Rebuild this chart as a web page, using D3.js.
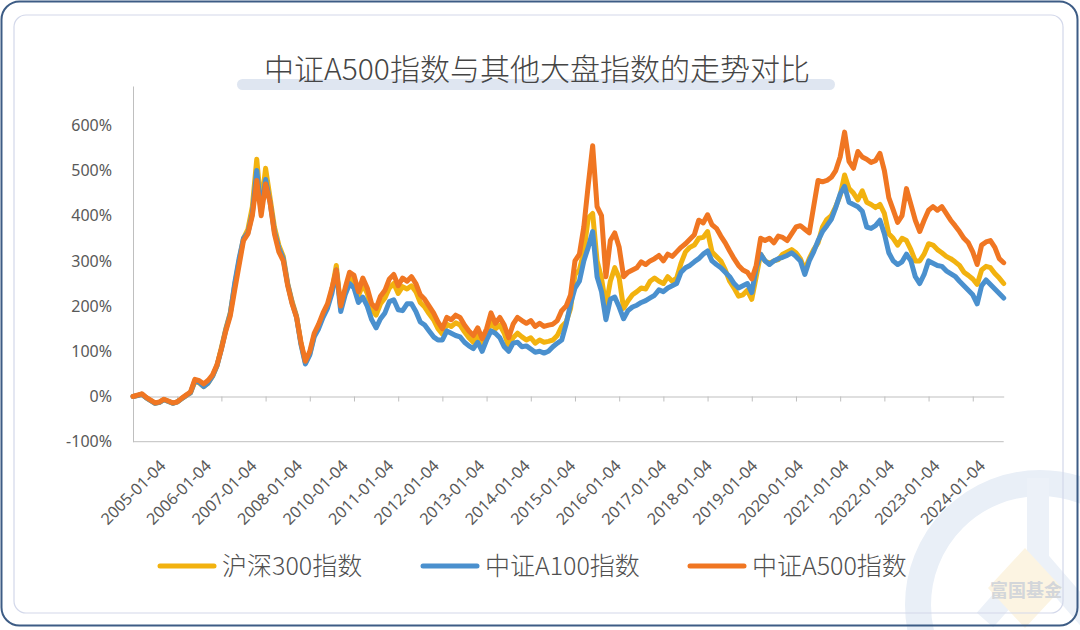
<!DOCTYPE html>
<html><head><meta charset="utf-8">
<script src="https://cdn.jsdelivr.net/npm/d3@7"></script>
<style>html,body{margin:0;padding:0;background:#fff;}svg{display:block}</style>
</head><body>
<svg id="c" width="1080" height="630"></svg>
<script>
const title = "中证A500指数与其他大盘指数的走势对比";
const seriesNames = ["沪深300指数", "中证A100指数", "中证A500指数"];
const seriesColors = ["#F2B20F", "#4A90CE", "#F07622"];
const yTicks = [-100, 0, 100, 200, 300, 400, 500, 600];
const xLabels = ["2005-01-04","2006-01-04","2007-01-04","2008-01-04","2010-01-04","2011-01-04","2012-01-04","2013-01-04","2014-01-04","2015-01-04","2016-01-04","2017-01-04","2018-01-04","2019-01-04","2020-01-04","2021-01-04","2022-01-04","2023-01-04","2024-01-04"];
const pointsPerTick = 10;
const pointsPerLabel = 10.3;
const yTop = 687;

const hs300 = [0,2,5,-3,-9,-15,-13,-7,-11,-15,
-12,-5,2,8,33,30,22,30,45,68,
108,150,185,245,300,350,370,420,525,420,
505,440,375,335,310,250,210,178,118,75,
95,135,155,180,200,235,290,195,232,262,
255,222,248,228,192,180,205,218,240,250,
228,243,238,245,232,208,198,183,170,150,
138,160,155,163,158,143,130,120,138,113,
135,165,150,158,140,110,130,140,132,125,
130,118,125,120,122,125,135,155,165,195,
270,280,320,395,405,300,262,200,255,285,
262,195,212,225,232,240,238,255,262,255,
250,265,255,262,295,320,330,335,350,352,
365,320,310,300,280,255,240,222,225,235,
215,265,315,300,295,300,303,315,320,325,
318,305,280,305,325,340,375,392,400,420,
445,490,460,450,435,455,430,425,418,425,
405,360,350,335,350,345,325,300,300,315,
338,335,325,318,310,305,298,290,275,268,
260,248,280,288,285,272,262,250];

const a100 = [0,2,5,-3,-9,-15,-13,-7,-11,-15,
-12,-5,2,8,35,31,22,30,45,68,
105,148,183,250,305,350,362,405,500,410,
480,430,365,328,305,248,207,176,115,72,
92,132,150,175,195,228,280,188,225,250,
240,208,220,200,170,152,172,185,210,214,
192,190,205,205,188,165,158,145,132,125,
125,145,140,135,132,120,112,106,120,100,
125,145,140,130,110,100,118,120,110,112,
105,98,100,96,100,110,118,125,160,205,
240,255,300,330,365,265,232,170,215,220,
198,172,190,198,202,208,212,218,224,236,
232,240,245,250,275,285,290,298,305,315,
322,300,292,285,275,265,250,240,245,250,
230,285,315,300,292,300,305,308,312,318,
310,300,270,300,320,345,365,378,392,418,
448,465,430,425,420,410,375,372,378,390,
360,318,300,292,298,315,300,265,250,270,
300,295,290,288,278,272,266,255,245,235,
225,205,245,258,248,238,228,218];

const a500 = [0,3,6,-2,-8,-14,-12,-6,-10,-14,
-12,-4,3,10,38,35,28,36,48,70,
105,145,178,235,290,345,360,400,478,400,
470,430,360,320,300,245,205,175,120,78,
100,140,160,185,205,240,280,200,240,275,
268,232,262,240,205,195,222,235,260,270,
245,262,255,265,250,225,215,200,185,165,
150,175,170,180,175,158,145,135,152,128,
150,185,162,175,158,130,160,175,168,162,
168,155,162,155,158,160,168,190,200,225,
300,315,375,468,555,420,400,265,345,362,
330,265,275,280,285,298,292,300,305,312,
300,315,310,320,330,338,348,358,390,384,
402,380,372,355,340,322,305,290,280,275,
260,290,350,345,350,340,355,352,345,360,
375,378,370,362,420,478,475,478,485,500,
530,585,520,505,542,530,525,518,522,538,
500,440,413,385,400,460,425,390,365,390,
412,420,412,420,405,390,378,365,350,340,
320,292,335,342,345,330,305,296];

const series = [hs300, a100, a500];

const svg = d3.select("#c");
const W = 1080, H = 630;

svg.append("rect").attr("width", W).attr("height", H).attr("fill", "#fff");

// watermark logo
const wm = svg.append("g");
wm.append("circle").attr("cx", 1040).attr("cy", 605).attr("r", 122)
  .attr("fill", "none").attr("stroke", "#e9eff7").attr("stroke-width", 26);
wm.append("path").attr("d", "M1038,478 L1038,560 M1038,560 L985,620 M1038,560 L1090,620")
  .attr("fill", "none").attr("stroke", "#ecf1f8").attr("stroke-width", 22);
wm.append("path").attr("d", "M1025,548 L1062,588 L1025,628 L988,588 Z").attr("fill", "#fcf4e2");
wm.append("text").attr("x", 1026).attr("y", 597).attr("text-anchor", "middle")
  .attr("font-family", "Noto Sans CJK SC").attr("font-size", 18).attr("font-weight", 700)
  .attr("fill", "#d3d6da").text("富国基金");

// frames
svg.append("rect").attr("x", 14).attr("y", 15).attr("width", 1049).attr("height", 598).attr("rx", 12)
  .attr("fill", "none").attr("stroke", "#d3d8ea").attr("stroke-width", 1.2);
svg.append("rect").attr("x", 1.5).attr("y", 1.5).attr("width", 1076).attr("height", 624).attr("rx", 18)
  .attr("fill", "none").attr("stroke", "#3d5c85").attr("stroke-width", 2);

// title
svg.append("rect").attr("x", 237).attr("y", 79).attr("width", 598).attr("height", 11).attr("rx", 5.5)
  .attr("fill", "#dfe6f1");
svg.append("text").attr("x", 537).attr("y", 80).attr("text-anchor", "middle")
  .attr("font-family", "Noto Sans CJK SC").attr("font-weight", 300).attr("font-size", 30)
  .attr("fill", "#454545").text(title);

// scales
const x = d3.scaleLinear().domain([0, hs300.length - 1]).range([133, 1003.7]);
const y = d3.scaleLinear().domain([-100, yTop]).range([441.7, 86]);

// y axis
const yAxis = svg.append("g").attr("transform", `translate(${x(0)},0)`)
  .call(d3.axisLeft(y).tickValues(yTicks).tickFormat(d => d + "%").tickSize(0).tickPadding(21));
yAxis.select(".domain").attr("stroke", "#bfbfbf");
yAxis.selectAll("text").attr("font-family", "Noto Sans").attr("font-size", 16).attr("fill", "#595959");

// bottom line (-100%)
svg.append("line").attr("x1", x(0)).attr("x2", x(hs300.length - 1)).attr("y1", y(-100)).attr("y2", y(-100))
  .attr("stroke", "#bfbfbf").attr("stroke-width", 1);

// x axis at 0
const tickVals = d3.range(0, hs300.length, pointsPerTick);
const xAxis = svg.append("g").attr("transform", `translate(0,${y(0)})`)
  .call(d3.axisBottom(x).tickValues(tickVals).tickFormat("").tickSizeInner(5).tickSizeOuter(0));
xAxis.select(".domain").attr("stroke", "#bfbfbf");
xAxis.selectAll(".tick line").attr("stroke", "#bfbfbf");

// x labels
svg.append("g").selectAll("text").data(xLabels).join("text")
  .attr("transform", (d, i) => `translate(${x(i * pointsPerLabel)},492) rotate(-45)`)
  .attr("text-anchor", "middle").attr("dominant-baseline", "central")
  .attr("font-family", "Noto Sans").attr("font-size", 16).attr("fill", "#595959")
  .text(d => d);

// lines
const line = d3.line().x((d, i) => x(i)).y(d => y(d)).curve(d3.curveLinear);
svg.append("g").selectAll("path").data(series).join("path")
  .attr("d", line).attr("fill", "none")
  .attr("stroke", (d, i) => seriesColors[i]).attr("stroke-width", 5)
  .attr("stroke-linejoin", "round").attr("stroke-linecap", "round");

// legend
const legendX = [160, 423, 690];
const lg = svg.append("g").selectAll("g").data(seriesNames).join("g")
  .attr("transform", (d, i) => `translate(${legendX[i]},566)`);
lg.append("line").attr("x1", 0).attr("x2", 54).attr("y1", 0).attr("y2", 0)
  .attr("stroke", (d, i) => seriesColors[i]).attr("stroke-width", 5).attr("stroke-linecap", "round");
lg.append("text").attr("x", 62).attr("y", 9).attr("font-family", "Noto Sans CJK SC")
  .attr("font-weight", 300).attr("font-size", 25).attr("fill", "#505050").text(d => d);
</script>
</body></html>
